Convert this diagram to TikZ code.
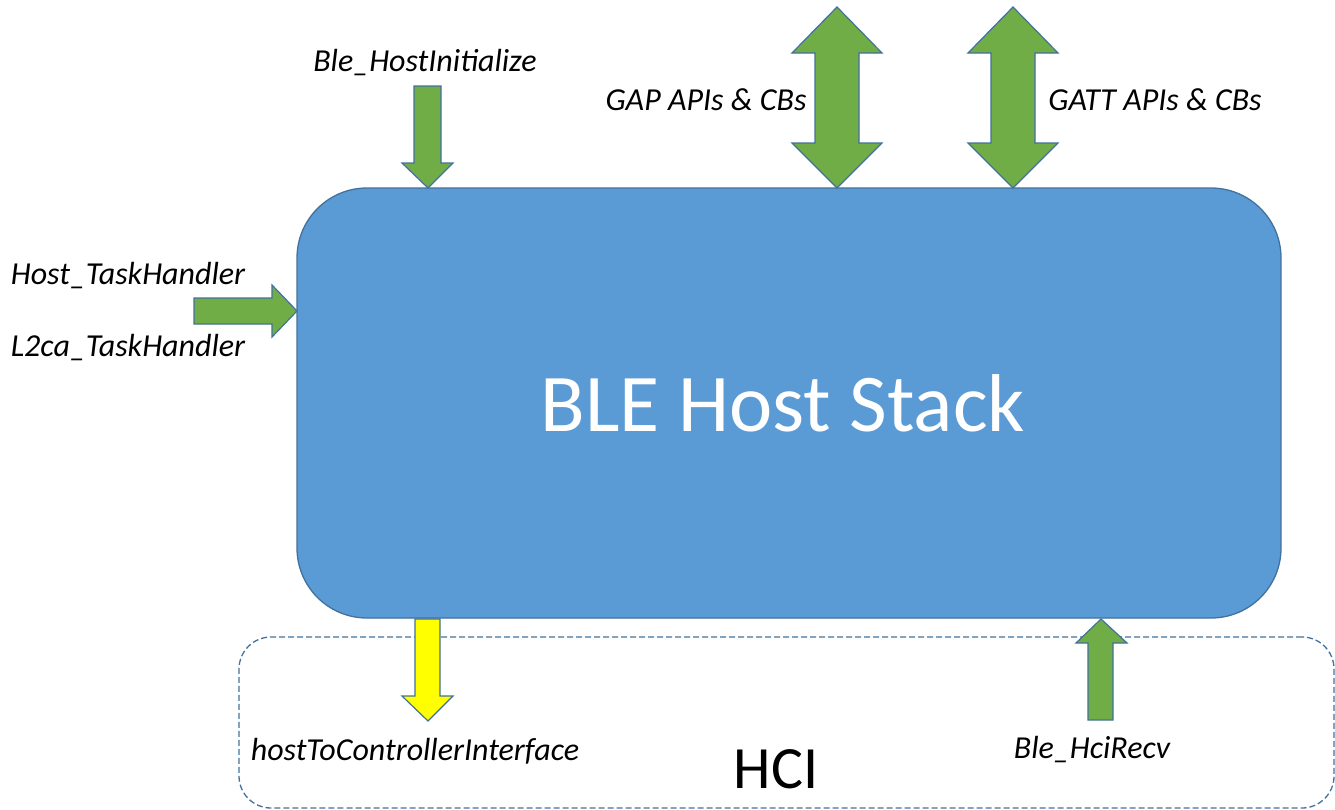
\documentclass[tikz,border=0pt]{standalone}
\usepackage{fontspec}
\setmainfont{Carlito}
\definecolor{hostblue}{HTML}{5B9BD5}
\definecolor{edgeblue}{HTML}{41719C}
\definecolor{arrowgreen}{HTML}{70AD47}
\definecolor{arrowyellow}{HTML}{FFFF00}
\begin{document}
\begin{tikzpicture}[x=1pt,y=-1pt,
  hostbox/.style={draw=edgeblue,line width=1.3pt,fill=hostblue,rounded corners=70pt,
    minimum width=984pt,minimum height=430pt,inner sep=0pt},
  hosttext/.style={inner sep=0pt,text=white,font=\fontsize{82}{90}\selectfont},
  hcibox/.style={draw=edgeblue,line width=1.3pt,dash pattern=on 6pt off 3pt,rounded corners=32pt,
    minimum width=1095pt,minimum height=171pt,inner sep=0pt},
  blockarrow/.style={draw=edgeblue,line width=1.2pt,fill=arrowgreen,line join=miter},
  yellowarrow/.style={blockarrow,fill=arrowyellow},
  lbl/.style={inner sep=0pt,anchor=base,font=\itshape\fontsize{32}{38}\selectfont},
  hcilbl/.style={inner sep=0pt,anchor=base,font=\fontsize{60}{70}\selectfont}]
\useasboundingbox (0,0) rectangle (1335,809);
% HCI region
\node[hcibox] (hci) at (786.5,722.5) {};
\node[hcilbl] (hcitext) at (776,788) {HCI};
% main box
\node[hostbox] (host) at (789,403) {};
\node[hosttext] (hostlabel) at (783,403) {BLE Host Stack};
% Ble_HostInitialize arrow
\coordinate (initTip) at (428,188);
\draw[blockarrow] (414,86) -- (441,86) -- (441,163) -- (453,163) -- (initTip) -- (402,163) -- (414,163) -- cycle;
\node[lbl] (init) at (425,71) {Ble\_HostInitialize};
% GAP double arrow
\draw[blockarrow] (837,7) -- (882,53) -- (859,53) -- (859,143) -- (882,143) -- (837,188)
  -- (792,143) -- (815,143) -- (815,53) -- (792,53) -- cycle;
\node[lbl] (gap) at (706,110) {GAP APIs \& CBs};
% GATT double arrow
\draw[blockarrow] (1013,7) -- (1058,53) -- (1035,53) -- (1035,143) -- (1058,143) -- (1013,188)
  -- (968,143) -- (991,143) -- (991,53) -- (968,53) -- cycle;
\node[lbl] (gatt) at (1155,110) {GATT APIs \& CBs};
% task handler arrow
\draw[blockarrow] (194,298) -- (272,298) -- (272,285) -- (297,311) -- (272,337) -- (272,324) -- (194,324) -- cycle;
\node[lbl] (hostth) at (128,284) {Host\_TaskHandler};
\node[lbl] (l2cath) at (128,356) {L2ca\_TaskHandler};
% hostToControllerInterface arrow
\draw[yellowarrow] (415,619) -- (440,619) -- (440,696) -- (453,696) -- (428,721) -- (402,696) -- (415,696) -- cycle;
\node[lbl] (h2c) at (415,760) {hostToControllerInterface};
% Ble_HciRecv arrow
\draw[blockarrow] (1101,619) -- (1127,643) -- (1113,643) -- (1113,720) -- (1088,720) -- (1088,643) -- (1076,643) -- cycle;
\node[lbl] (recv) at (1092,758) {Ble\_HciRecv};
\end{tikzpicture}
\end{document}
